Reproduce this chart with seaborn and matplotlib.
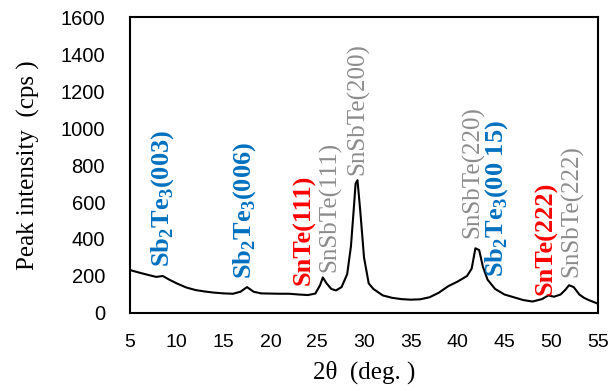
import numpy as np
import pandas as pd
import seaborn as sns
import matplotlib.pyplot as plt

# XRD pattern
two_theta = [5, 6, 7, 7.8, 8.5, 9.2, 10, 11, 12, 13, 14, 15, 16, 16.8, 17.5, 18.2,
             19, 20, 21, 22, 23, 24, 24.8, 25.3, 25.6, 26.0, 26.5, 27.0, 27.6, 28.2,
             28.6, 28.9, 29.1, 29.3, 29.6, 30.0, 30.5, 31, 32, 33, 34, 35, 36, 37,
             38, 39, 40, 41, 41.5, 41.9, 42.3, 42.7, 43.2, 44, 45, 46, 47, 48, 49,
             49.7, 50.3, 51, 51.5, 51.9, 52.4, 53, 53.5, 54, 55]
intensity = [232, 218, 205, 195, 200, 180, 160, 138, 124, 116, 110, 106, 104, 115, 140, 115,
             106, 105, 104, 104, 100, 97, 105, 150, 192, 160, 130, 122, 140, 210,
             360, 560, 700, 718, 550, 300, 160, 130, 95, 82, 75, 72, 74, 85,
             110, 145, 170, 200, 240, 350, 340, 250, 180, 130, 100, 85, 70, 62, 75,
             95, 88, 100, 125, 150, 140, 100, 82, 70, 50]

# peak labels: text, x, y (bottom of text), kind
peak_text = [r"Sb$_\mathbf{2}$Te$_\mathbf{3}$(003)", r"Sb$_\mathbf{2}$Te$_\mathbf{3}$(006)",
             "SnTe(111)", "SnSbTe(111)", "SnSbTe(200)", "SnSbTe(220)",
             r"Sb$_\mathbf{2}$Te$_\mathbf{3}$(00 15)", "SnTe(222)", "SnSbTe(222)"]
peak_x = [8.5, 17.2, 23.6, 26.3, 29.3, 41.6, 44.2, 49.4, 52.2]
peak_y = [248, 183, 151, 221, 745, 405, 194, 97, 194]
peak_kind = ["sb", "sb", "snte", "ss", "ss", "ss", "sb", "snte", "ss"]

df = pd.DataFrame({"two_theta": two_theta, "intensity": intensity})

sns.set_theme(style="white")
plt.rcParams["font.family"] = ["Liberation Sans", "DejaVu Sans"]
plt.rcParams["mathtext.fontset"] = "custom"
plt.rcParams["mathtext.rm"] = "Liberation Serif"
plt.rcParams["mathtext.bf"] = "Liberation Serif:bold"

fig = plt.figure(figsize=(6.09, 3.91), dpi=100)
ax = fig.add_axes([0.2135, 0.1995, 0.7685, 0.757])

sns.lineplot(data=df, x="two_theta", y="intensity", color="black", linewidth=1.5, ax=ax)

ax.set_xlim(5, 55)
ax.set_ylim(0, 1600)
ax.set_xticks(range(5, 56, 5))
ax.set_yticks(range(0, 1601, 200))
ax.tick_params(axis="x", direction="in", length=6, width=1, labelsize=14, pad=15, colors="black")
ax.tick_params(axis="y", direction="in", length=4, width=1, labelsize=14.5, pad=18, colors="black")
for s in ax.spines.values():
    s.set_color("black")
    s.set_linewidth(1.5)

ax.set_xlabel("2θ  (deg. )", family="Liberation Serif", fontsize=18, color="black", labelpad=7)
ax.set_ylabel("Peak intensity  (cps )", family="Liberation Serif", fontsize=18, color="black", labelpad=15)

styles = {"sb": dict(color="#0070C0", weight="bold", fontsize=19),
          "snte": dict(color="#FF0000", weight="bold", fontsize=19),
          "ss": dict(color="#8C8C8C", weight="normal", fontsize=18)}
for t, x, y, k in zip(peak_text, peak_x, peak_y, peak_kind):
    ax.text(x, y, t, rotation=90, ha="center", va="bottom", family="Liberation Serif",
            **styles[k])

fig.savefig("out.png", dpi=100)
